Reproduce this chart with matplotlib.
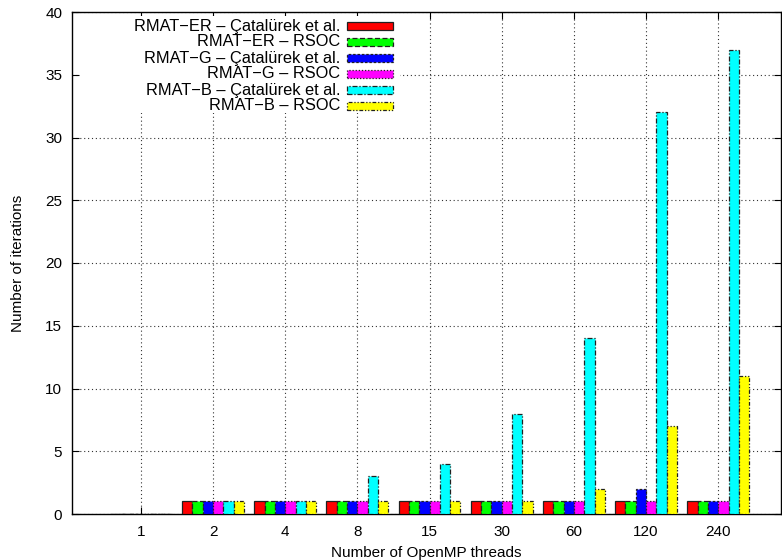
import numpy as np
import matplotlib
matplotlib.use("Agg")
from matplotlib import pyplot as plt
from matplotlib.patches import Rectangle

plt.rcParams['font.family'] = ['Liberation Sans', 'DejaVu Sans']
plt.rcParams['font.size'] = 11

threads = ['1', '2', '4', '8', '15', '30', '60', '120', '240']

series_names = [
    'RMAT\u2212ER \u2013 \u00c7atal\u00fcrek et al.',
    'RMAT\u2212ER \u2013 RSOC',
    'RMAT\u2212G \u2013 \u00c7atal\u00fcrek et al.',
    'RMAT\u2212G \u2013 RSOC',
    'RMAT\u2212B \u2013 \u00c7atal\u00fcrek et al.',
    'RMAT\u2212B \u2013 RSOC',
]

er_catalyurek = [0, 1, 1, 1, 1, 1, 1, 1, 1]
er_rsoc = [0, 1, 1, 1, 1, 1, 1, 1, 1]
g_catalyurek = [0, 1, 1, 1, 1, 1, 1, 2, 1]
g_rsoc = [0, 1, 1, 1, 1, 1, 1, 1, 1]
b_catalyurek = [0, 1, 1, 3, 4, 8, 14, 32, 37]
b_rsoc = [0, 1, 1, 1, 1, 1, 2, 7, 11]

series = [er_catalyurek, er_rsoc, g_catalyurek, g_rsoc, b_catalyurek, b_rsoc]
colors = ['#ff0000', '#00ff00', '#0000ff', '#ff00ff', '#00ffff', '#ffff00']
edge_styles = ['-', (0, (4, 2)), (0, (2, 1.5)), (0, (1, 1.5)),
               (0, (4, 1.5, 1, 1.5)), (0, (3, 1.5, 1, 1.5, 1, 1.5))]

W, H = 782, 560
fig = plt.figure(figsize=(W / 100, H / 100), dpi=100)
ax = fig.add_axes([72 / W, 1 - 514 / H, (781 - 72) / W, (514 - 12) / H])

x = np.arange(len(threads))
bw = 1 / 7
for j, vals in enumerate(series):
    ax.bar(x + (j - 2.5) * bw, vals, width=bw, color=colors[j],
           edgecolor='#202020', linewidth=0.9, linestyle=edge_styles[j],
           zorder=3)

ax.set_xlim(-0.955, 8.87)
ax.set_ylim(0, 40)
ax.set_xticks(x)
ax.set_xticklabels(threads)
ax.set_yticks(np.arange(0, 41, 5))
ax.tick_params(direction='in', length=5, width=0.8, top=True, right=True,
               labelsize=11, colors='black')
ax.tick_params(axis='x', pad=8)
ax.tick_params(axis='y', pad=7)
ax.grid(True, linestyle=(0, (1, 2.5)), color='#333333', linewidth=0.8, zorder=0)
for s in ax.spines.values():
    s.set_linewidth(1.0)

ax.set_xlabel('Number of OpenMP threads', fontsize=11, va='center')
ax.xaxis.set_label_coords(0.5, -39 / 502)
ax.set_ylabel('Number of iterations', fontsize=11, va='center')
ax.yaxis.set_label_coords(-54 / 709, 0.5)

# key box: right-aligned labels followed by fill samples
def px(xp, yp):
    return xp / W, 1 - yp / H

bx0, by0 = px(80, 113)
bx1, by1 = px(400, 16)
bg = Rectangle((bx0, by0), bx1 - bx0, by1 - by0, transform=fig.transFigure,
               facecolor='white', edgecolor='none', zorder=4)
bg.set_figure(fig)
fig.patches.append(bg)
for j, name in enumerate(series_names):
    yc = 26 + j * 16
    tx, ty = px(340, yc)
    fig.text(tx, ty, name, ha='right', va='center', fontsize=11.8, zorder=6)
    rx0, ry0 = px(347, yc + 4)
    rx1, ry1 = px(393, yc - 4)
    r = Rectangle((rx0, ry0), rx1 - rx0, ry1 - ry0, transform=fig.transFigure,
                  facecolor=colors[j], edgecolor='#202020', linewidth=0.9,
                  linestyle=edge_styles[j], zorder=6)
    r.set_figure(fig)
    fig.patches.append(r)

fig.savefig('out.png', dpi=100)
